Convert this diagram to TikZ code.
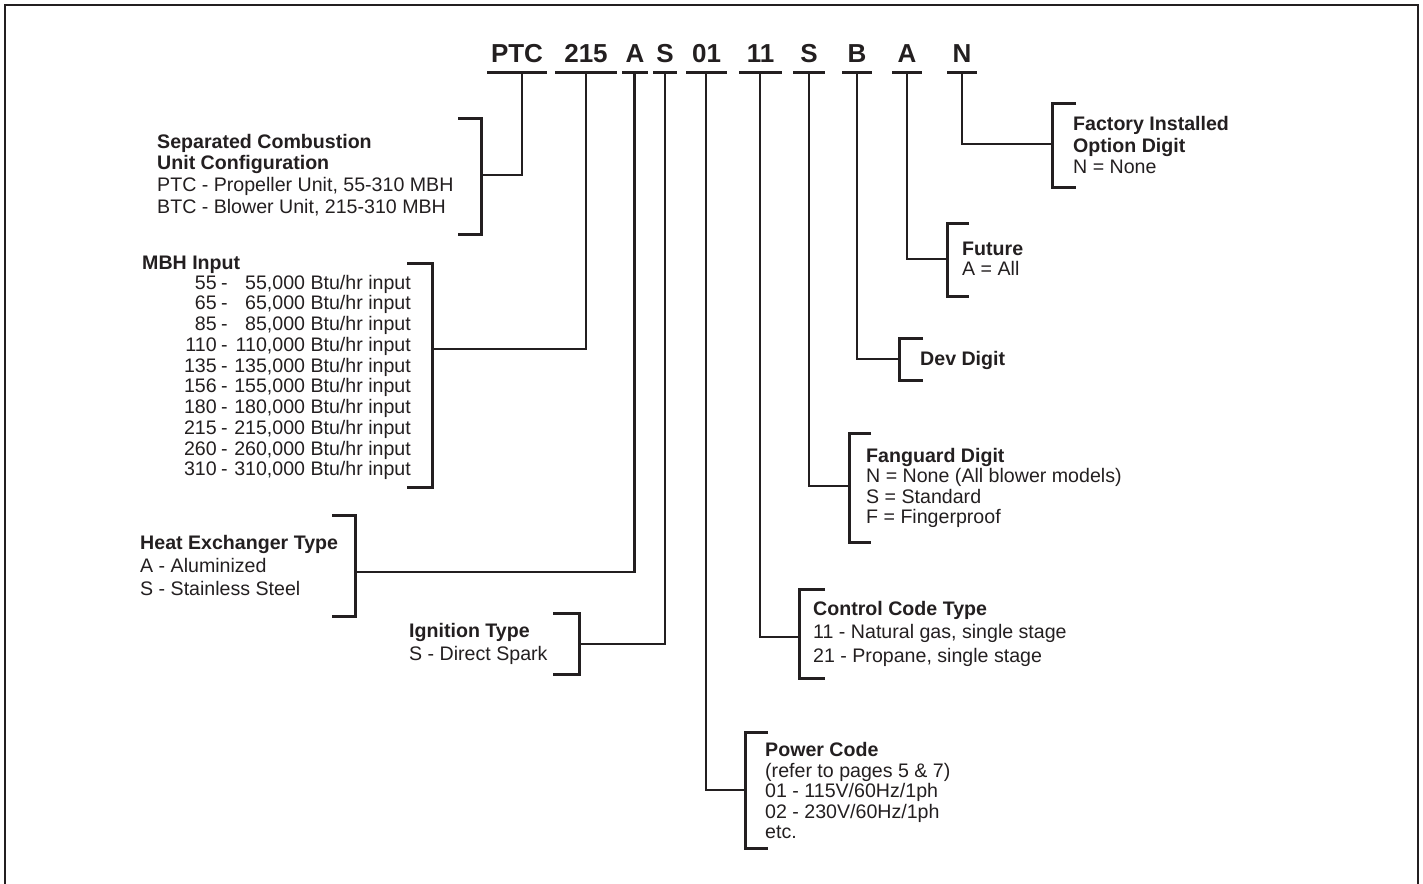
\documentclass[tikz,border=0pt]{standalone}
\usepackage{fontspec}
\setmainfont{Liberation Sans}
\definecolor{ink}{RGB}{35,31,32}
\newcommand\blocklines[2]{\fontsize{19.6}{#1}\selectfont\begin{tabular}[t]{@{}l@{}}#2\end{tabular}}
\newcommand\mbhlist{\fontsize{19.6}{20.75}\selectfont\begin{tabular}[t]{@{}r@{\hspace{4.5pt}-\hspace{6.5pt}}r@{}}
55 & 55,000 Btu/hr input\\
65 & 65,000 Btu/hr input\\
85 & 85,000 Btu/hr input\\
110 & 110,000 Btu/hr input\\
135 & 135,000 Btu/hr input\\
156 & 155,000 Btu/hr input\\
180 & 180,000 Btu/hr input\\
215 & 215,000 Btu/hr input\\
260 & 260,000 Btu/hr input\\
310 & 310,000 Btu/hr input
\end{tabular}}
\begin{document}
\begin{tikzpicture}[x=1pt,y=-1pt,
  txt/.style={anchor=base west, inner sep=0pt, text=ink},
  hdr/.style={anchor=base, inner sep=0pt, text=ink, font=\fontsize{26}{30}\selectfont\bfseries},
  brk/.style={draw=ink, line width=3pt, line join=miter},
  con/.style={draw=ink, line width=2.8pt, line join=miter},
  uline/.style={draw=ink, line width=3.4pt}]
\useasboundingbox (0,0) rectangle (1423,883);
\draw[ink, line width=2pt] (4.5,895) -- (4.5,5) -- (1418,5) -- (1418,895);

% header code letters
\node[hdr] (hPTC) at (517,63) {PTC};
\node[hdr] (h215) at (586,63) {215};
\node[hdr] (hA1) at (635,63) {A};
\node[hdr] (hS1) at (665,63) {S};
\node[hdr] (h01) at (706.5,63) {01};
\node[hdr] (h11) at (760.5,63) {11};
\node[hdr] (hS2) at (809,63) {S};
\node[hdr] (hB) at (857,63) {B};
\node[hdr] (hA2) at (907,63) {A};
\node[hdr] (hN) at (962,63) {N};

% underlines
\draw[uline] (487,72.7) -- (547,72.7);
\draw[uline] (555,72.7) -- (617,72.7);
\draw[uline] (622,72.7) -- (648,72.7);
\draw[uline] (653,72.7) -- (677,72.7);
\draw[uline] (686,72.7) -- (727,72.7);
\draw[uline] (739,72.7) -- (782,72.7);
\draw[uline] (793,72.7) -- (825,72.7);
\draw[uline] (842,72.7) -- (872,72.7);
\draw[uline] (892,72.7) -- (922,72.7);
\draw[uline] (947,72.7) -- (977,72.7);

% connector start points
\coordinate (tPTC) at (522,72.7);
\coordinate (t215) at (586,72.7);
\coordinate (tA1) at (634.5,72.7);
\coordinate (tS1) at (665,72.7);
\coordinate (t01) at (706,72.7);
\coordinate (t11) at (760,72.7);
\coordinate (tS2) at (809,72.7);
\coordinate (tB) at (857,72.7);
\coordinate (tA2) at (907,72.7);
\coordinate (tN) at (962,72.7);

% bracket midpoints
\coordinate (mSep) at (481,175);
\coordinate (mMBH) at (432,349);
\coordinate (mHeat) at (355,572);
\coordinate (mIgn) at (579,644);
\coordinate (mPow) at (745,790);
\coordinate (mCtl) at (799,637);
\coordinate (mFan) at (849,486);
\coordinate (mDev) at (899,359);
\coordinate (mFut) at (947,259);
\coordinate (mFac) at (1052,144);

% brackets
\draw[brk] (458,118) -- (481,118) -- (481,234) -- (458,234);
\draw[brk] (407,263) -- (432,263) -- (432,487) -- (407,487);
\draw[brk] (332,515) -- (355,515) -- (355,616) -- (332,616);
\draw[brk] (553,613) -- (579,613) -- (579,674) -- (553,674);
\draw[brk] (768,732) -- (745,732) -- (745,848) -- (768,848);
\draw[brk] (825,589) -- (799,589) -- (799,678) -- (825,678);
\draw[brk] (871,433) -- (849,433) -- (849,542) -- (871,542);
\draw[brk] (923,338) -- (899,338) -- (899,380) -- (923,380);
\draw[brk] (969,223) -- (947,223) -- (947,296) -- (969,296);
\draw[brk] (1076,103) -- (1052,103) -- (1052,187) -- (1076,187);

% connectors
\draw[con] (tPTC) |- (mSep);
\draw[con] (t215) |- (mMBH);
\draw[con] (tA1) |- (mHeat);
\draw[con] (tS1) |- (mIgn);
\draw[con] (t01) |- (mPow);
\draw[con] (t11) |- (mCtl);
\draw[con] (tS2) |- (mFan);
\draw[con] (tB) |- (mDev);
\draw[con] (tA2) |- (mFut);
\draw[con] (tN) |- (mFac);

% text blocks
\node[txt] (xSep) at (157,148) {\blocklines{21.8}{\bfseries Separated Combustion\\ \bfseries Unit Configuration\\ PTC - Propeller Unit, 55-310 MBH\\ BTC - Blower Unit, 215-310 MBH}};
\node[txt] (xMBHt) at (142,269) {\fontsize{19.6}{20.75}\selectfont\bfseries MBH Input};
\node[txt, anchor=base east] (xMBH) at (411,289) {\mbhlist};
\node[txt] (xHeat) at (140,549) {\blocklines{23}{\bfseries Heat Exchanger Type\\ A - Aluminized\\ S - Stainless Steel}};
\node[txt] (xIgn) at (409,637) {\blocklines{23}{\bfseries Ignition Type\\ S - Direct Spark}};
\node[txt] (xPow) at (765,756.5) {\blocklines{20.6}{\bfseries Power Code\\ (refer to pages 5 \& 7)\\ 01 - 115V/60Hz/1ph\\ 02 - 230V/60Hz/1ph\\ etc.}};
\node[txt] (xCtl) at (813,615) {\blocklines{23.5}{\bfseries Control Code Type\\ 11 - Natural gas, single stage\\ 21 - Propane, single stage}};
\node[txt] (xFan) at (866,462) {\blocklines{20.5}{\bfseries Fanguard Digit\\ N = None (All blower models)\\ S = Standard\\ F = Fingerproof}};
\node[txt] (xDev) at (920,365.5) {\fontsize{19.6}{20.6}\selectfont\bfseries Dev Digit};
\node[txt] (xFut) at (962,255) {\blocklines{20.7}{\bfseries Future\\ A = All}};
\node[txt] (xFac) at (1073,130.5) {\blocklines{21.6}{\bfseries Factory Installed\\ \bfseries Option Digit\\ N = None}};
\end{tikzpicture}
\end{document}
